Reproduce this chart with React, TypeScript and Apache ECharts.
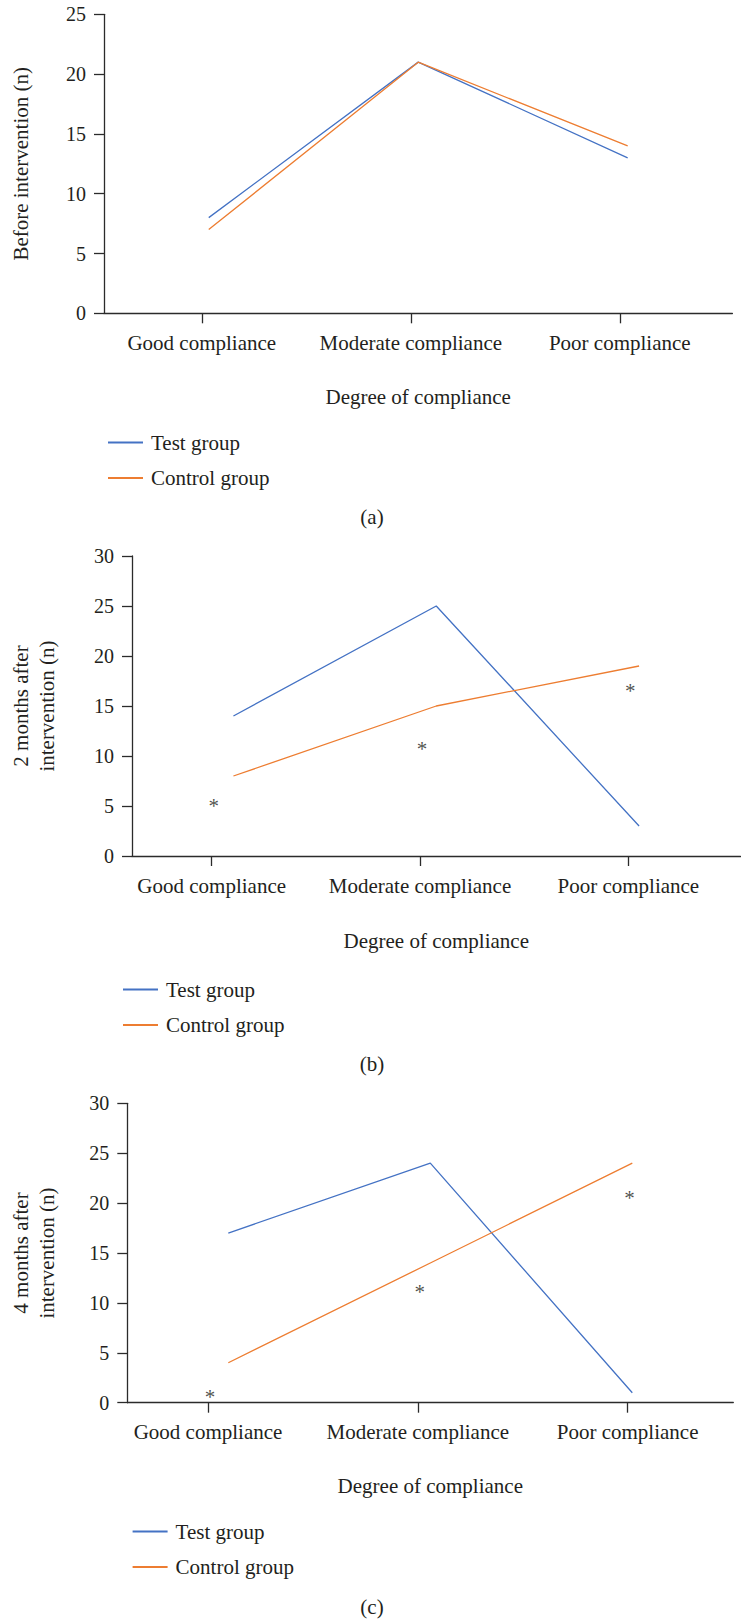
import React, { useEffect, useRef } from "react";
import * as echarts from "echarts";

// ---------- data ----------
const categories = ["Good compliance", "Moderate compliance", "Poor compliance"];
const seriesNames = ["Test group", "Control group"];
const xAxisName = "Degree of compliance";

const yNameA = "Before intervention (n)";
const testA = [8, 21, 13];
const controlA = [7, 21, 14];
const yMaxA = 25;

const yNameB = "2 months after\nintervention (n)";
const testB = [14, 25, 3];
const controlB = [8, 15, 19];
const starsB = [5.4, 11.1, 16.9];
const yMaxB = 30;

const yNameC = "4 months after\nintervention (n)";
const testC = [17, 24, 1];
const controlC = [4, 14, 24];
const starsC = [1, 11.5, 20.9];
const yMaxC = 30;

const yInterval = 5;
const captions = ["(a)", "(b)", "(c)"];

// ---------- styles / layout ----------
const FONT = "Liberation Serif";
const TEXT = "#231F20";
const AXIS = "#2b2b2b";
const BLUE = "#4472C4";
const ORANGE = "#ED7D31";

const layouts = [
  { dLeft: 103.6, dWidth: 628.8, tLeft: 97.3, tWidth: 627, top: 14.3, height: 299, yGap: 70, xGap: 73, legLeft: 103, legTop: 427, capY: 517 },
  { dLeft: 117.5, dWidth: 623, tLeft: 107.5, tWidth: 625, top: 556, height: 300, yGap: 72, xGap: 74.5, legLeft: 118, legTop: 974, capY: 1064 },
  { dLeft: 127.3, dWidth: 606, tLeft: 103.1, tWidth: 629.4, top: 1103.3, height: 299.4, yGap: 67, xGap: 73, legLeft: 127.6, legTop: 1516, capY: 1606.7 },
];

const panels = [
  { yName: yNameA, test: testA, control: controlA, stars: null as number[] | null, yMax: yMaxA },
  { yName: yNameB, test: testB, control: controlB, stars: starsB, yMax: yMaxB },
  { yName: yNameC, test: testC, control: controlC, stars: starsC, yMax: yMaxC },
];

function buildOption() {
  const grid: any[] = [];
  const xAxis: any[] = [];
  const yAxis: any[] = [];
  const series: any[] = [];
  const legend: any[] = [];
  const graphic: any[] = [];

  panels.forEach((p, i) => {
    const L = layouts[i];
    const d = 2 * i;
    const t = 2 * i + 1;
    grid.push({ left: L.dLeft, width: L.dWidth, top: L.top, height: L.height, containLabel: false });
    grid.push({ left: L.tLeft, width: L.tWidth, top: L.top, height: L.height, containLabel: false });

    xAxis.push({
      type: "category",
      gridIndex: d,
      data: categories,
      boundaryGap: true,
      axisLine: { show: true, lineStyle: { color: AXIS, width: 1.3 } },
      axisTick: { show: false },
      axisLabel: { show: false },
      splitLine: { show: false },
      name: xAxisName,
      nameLocation: "middle",
      nameGap: L.xGap,
      nameTextStyle: { fontFamily: FONT, fontSize: 21, color: TEXT },
    });
    xAxis.push({
      type: "category",
      gridIndex: t,
      data: categories,
      boundaryGap: true,
      axisLine: { show: false },
      axisTick: { show: true, alignWithLabel: true, length: 10, lineStyle: { color: AXIS, width: 1.3 } },
      axisLabel: { show: true, margin: 19, fontFamily: FONT, fontSize: 21, color: TEXT, interval: 0 },
      splitLine: { show: false },
    });

    yAxis.push({
      type: "value",
      gridIndex: d,
      min: 0,
      max: p.yMax,
      interval: yInterval,
      axisLine: { show: true, lineStyle: { color: AXIS, width: 1.3 } },
      axisTick: { show: true, length: 10, lineStyle: { color: AXIS, width: 1.3 } },
      axisLabel: { margin: 18, fontFamily: FONT, fontSize: 20, color: TEXT },
      splitLine: { show: false },
      name: p.yName,
      nameLocation: "middle",
      nameGap: L.yGap,
      nameTextStyle: { fontFamily: FONT, fontSize: 21, color: TEXT, lineHeight: 26 },
    });
    yAxis.push({ type: "value", gridIndex: t, min: 0, max: p.yMax, interval: yInterval, show: false });

    series.push({
      type: "line",
      name: seriesNames[0],
      xAxisIndex: d,
      yAxisIndex: d,
      data: p.test,
      symbol: "none",
      showSymbol: false,
      lineStyle: { color: BLUE, width: 1.3 },
      itemStyle: { color: BLUE },
      silent: true,
    });
    series.push({
      type: "line",
      name: seriesNames[1],
      xAxisIndex: d,
      yAxisIndex: d,
      data: p.control,
      symbol: "none",
      showSymbol: false,
      lineStyle: { color: ORANGE, width: 1.3 },
      itemStyle: { color: ORANGE },
      silent: true,
    });
    if (p.stars) {
      series.push({
        type: "scatter",
        name: "significance",
        xAxisIndex: t,
        yAxisIndex: t,
        data: p.stars,
        symbol: "circle",
        symbolSize: 1,
        itemStyle: { color: "rgba(0,0,0,0)" },
        silent: true,
        label: {
          show: true,
          formatter: "*",
          position: "inside",
          fontFamily: FONT,
          fontSize: 21,
          color: TEXT,
          offset: [2, 4],
        },
      });
    }

    legend.push({
      orient: "vertical",
      left: L.legLeft,
      top: L.legTop,
      itemWidth: 35,
      itemHeight: 2,
      itemGap: 14.5,
      icon: "rect",
      selectedMode: false,
      data: seriesNames,
      textStyle: { fontFamily: FONT, fontSize: 21, color: TEXT, lineHeight: 21, padding: [0, 0, 0, 3] },
    });

    graphic.push({
      type: "text",
      x: 372,
      y: L.capY,
      style: {
        text: captions[i],
        fontFamily: FONT,
        fontSize: 21,
        fill: TEXT,
        align: "center",
        verticalAlign: "middle",
      },
    });
  });

  return {
    animation: false,
    backgroundColor: "#ffffff",
    textStyle: { fontFamily: FONT },
    grid,
    xAxis,
    yAxis,
    series,
    legend,
    graphic,
  };
}

export default function App() {
  const ref = useRef<HTMLDivElement>(null);
  useEffect(() => {
    document.body.style.margin = "0";
    document.body.style.overflow = "hidden";
    const chart = echarts.init(ref.current as HTMLDivElement, null, { renderer: "svg" });
    chart.setOption(buildOption() as any);
    return () => chart.dispose();
  }, []);
  return <div ref={ref} style={{ width: 741, height: 1619 }} />;
}
